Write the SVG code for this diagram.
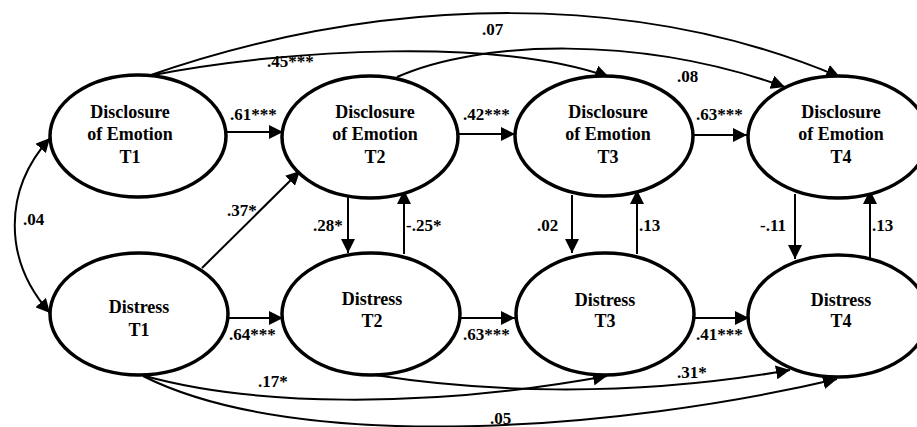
<svg xmlns="http://www.w3.org/2000/svg" width="917" height="427" viewBox="0 0 917 427">
<defs>
<style>
.node ellipse{fill:#fff;stroke:#000;stroke-width:3.5}
.node text{font-weight:bold;font-size:18px;text-anchor:middle;fill:#000}
.conn path,.conn line{fill:none;stroke:#000;stroke-width:2}
.arr{marker-end:url(#ah)}
.lbl{font-weight:bold;font-size:17px;fill:#000}
</style>
<marker id="ah" markerUnits="userSpaceOnUse" markerWidth="15" markerHeight="14" refX="14" refY="7" orient="auto-start-reverse">
<path d="M0,0 L14,7 L0,14 z" fill="#000"/>
</marker>
</defs>
<rect width="917" height="427" fill="#fff"/>
<g id="connectors" class="conn">
<path d="M50,138 C3,190 3,260 50,313" marker-start="url(#ah)" marker-end="url(#ah)"/>
<path class="arr" d="M148,76 C290,48 500,38 609,77"/>
<path class="arr" d="M148,76 C390,-8 640,-8 840,77"/>
<path class="arr" d="M397,77 C480,40 640,35 785,87"/>
<path class="arr" d="M145,376 C250,405 420,410 607,376"/>
<path class="arr" d="M375,375 C470,390 620,400 790,370"/>
<path class="arr" d="M143,376 C300,455 620,430 837,379"/>
<line class="arr" x1="227" y1="132" x2="283" y2="132"/>
<line class="arr" x1="458" y1="134" x2="515" y2="134"/>
<line class="arr" x1="694" y1="135" x2="747" y2="135"/>
<line class="arr" x1="228" y1="318" x2="283" y2="318"/>
<line class="arr" x1="460" y1="318" x2="515" y2="318"/>
<line class="arr" x1="694" y1="318" x2="749" y2="318"/>
<line class="arr" x1="202" y1="268" x2="300" y2="171"/>
<line class="arr" x1="348" y1="196" x2="348" y2="253"/>
<line class="arr" x1="404" y1="254" x2="404" y2="190"/>
<line class="arr" x1="572" y1="195" x2="572" y2="253"/>
<line class="arr" x1="637" y1="254" x2="637" y2="190"/>
<line class="arr" x1="795" y1="194" x2="795" y2="259"/>
<line class="arr" x1="870" y1="262" x2="870" y2="190"/>
</g>
<g id="labels" class="lbl" font-family="'Liberation Serif', 'Times New Roman', 'DejaVu Serif', serif">
<text x="230" y="120">.61***</text>
<text x="463" y="120">.42***</text>
<text x="696" y="120">.63***</text>
<text x="229" y="340">.64***</text>
<text x="463" y="340">.63***</text>
<text x="696" y="340">.41***</text>
<text x="227" y="216">.37*</text>
<text x="313" y="231">.28*</text>
<text x="406" y="231">-.25*</text>
<text x="537" y="231">.02</text>
<text x="639" y="231">.13</text>
<text x="760" y="231">-.11</text>
<text x="872" y="231">.13</text>
<text x="23" y="225">.04</text>
<text x="267" y="67">.45***</text>
<text x="482" y="35">.07</text>
<text x="677" y="82">.08</text>
<text x="258" y="387">.17*</text>
<text x="677" y="378">.31*</text>
<text x="490" y="424">.05</text>
</g>
<g id="de1" class="node" font-family="'Liberation Serif', 'Times New Roman', 'DejaVu Serif', serif"><ellipse cx="138" cy="136" rx="88" ry="61"/><text x="130" y="118">Disclosure</text><text x="130" y="140">of Emotion</text><text x="130" y="163">T1</text></g>
<g id="de2" class="node" font-family="'Liberation Serif', 'Times New Roman', 'DejaVu Serif', serif"><ellipse cx="370" cy="137" rx="88" ry="61"/><text x="375" y="118">Disclosure</text><text x="375" y="140">of Emotion</text><text x="375" y="163">T2</text></g>
<g id="de3" class="node" font-family="'Liberation Serif', 'Times New Roman', 'DejaVu Serif', serif"><ellipse cx="604" cy="136" rx="89" ry="60"/><text x="608" y="118">Disclosure</text><text x="608" y="140">of Emotion</text><text x="608" y="163">T3</text></g>
<g id="de4" class="node" font-family="'Liberation Serif', 'Times New Roman', 'DejaVu Serif', serif"><ellipse cx="838" cy="137" rx="90" ry="61"/><text x="841" y="118">Disclosure</text><text x="841" y="140">of Emotion</text><text x="841" y="163">T4</text></g>
<g id="d1" class="node" font-family="'Liberation Serif', 'Times New Roman', 'DejaVu Serif', serif"><ellipse cx="139" cy="314" rx="89" ry="61"/><text x="139" y="313">Distress</text><text x="139" y="336">T1</text></g>
<g id="d2" class="node" font-family="'Liberation Serif', 'Times New Roman', 'DejaVu Serif', serif"><ellipse cx="371" cy="314" rx="89" ry="61"/><text x="372" y="305">Distress</text><text x="372" y="327">T2</text></g>
<g id="d3" class="node" font-family="'Liberation Serif', 'Times New Roman', 'DejaVu Serif', serif"><ellipse cx="605" cy="314" rx="89" ry="61"/><text x="605" y="306">Distress</text><text x="605" y="327">T3</text></g>
<g id="d4" class="node" font-family="'Liberation Serif', 'Times New Roman', 'DejaVu Serif', serif"><ellipse cx="838" cy="316" rx="90" ry="61"/><text x="841" y="306">Distress</text><text x="841" y="327">T4</text></g>
</svg>
